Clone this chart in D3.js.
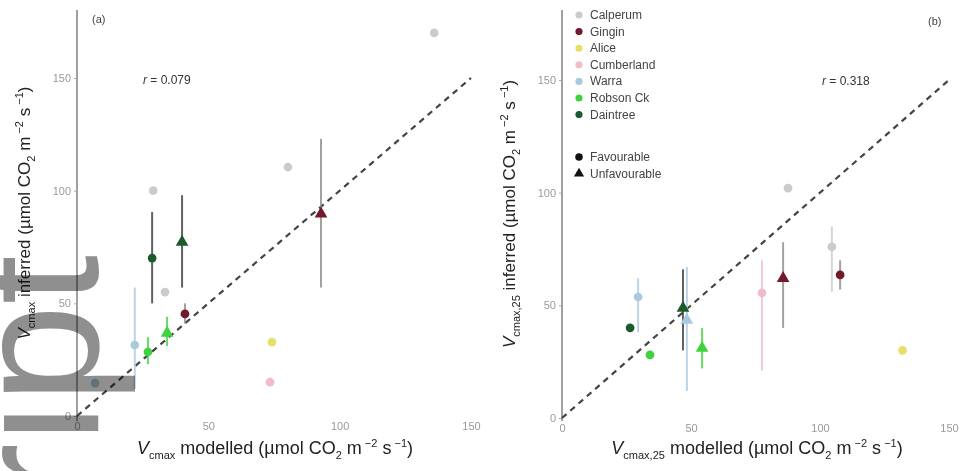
<!DOCTYPE html>
<html>
<head>
<meta charset="utf-8">
<script src="https://cdn.jsdelivr.net/npm/d3@7"></script>
<style>
  html, body { margin: 0; padding: 0; background: #fff; }
  svg { display: block; font-family: "Liberation Sans", Arial, sans-serif; }
</style>
</head>
<body>
<svg id="chart" width="969" height="471"></svg>
<script>
// Sites and their colours
const sites = ["Calperum", "Gingin", "Alice", "Cumberland", "Warra", "Robson Ck", "Daintree"];
const siteColours = ["#cbcbcb", "#74182c", "#e4e06a", "#efbccb", "#a9c9df", "#3fd23f", "#1c5a2c"];
const conditions = ["Favourable", "Unfavourable"];

// Panel (a): Vcmax modelled vs inferred
const aSite = ["Calperum", "Calperum", "Calperum", "Calperum", "Gingin", "Gingin", "Daintree", "Daintree",
               "Robson Ck", "Robson Ck", "Warra", "Warra", "Alice", "Cumberland"];
const aCond = ["Favourable", "Favourable", "Favourable", "Favourable", "Unfavourable", "Favourable", "Favourable", "Unfavourable",
               "Favourable", "Unfavourable", "Favourable", "Favourable", "Favourable", "Favourable"];
const aModelled = [136, 80.3, 33.5, 29, 92.9, 41.1, 28.6, 40, 27, 34.3, 22, 6.9, 74.2, 73.5];
const aInferred = [170, 110.5, 55, 100, 89.7, 45.3, 70.1, 77.2, 28.4, 36.8, 31.5, 14.6, 32.8, 15];
const aLow      = [null, null, null, null, 57, 41, 50, 57, 23, 31, 12, null, null, null];
const aHigh     = [null, null, null, null, 123, 50, 90.5, 98, 35, 44, 57, null, null, null];

// Panel (b): Vcmax,25 modelled vs inferred
const bSite = ["Calperum", "Calperum", "Gingin", "Gingin", "Alice", "Cumberland", "Daintree", "Daintree",
               "Robson Ck", "Robson Ck", "Warra", "Warra"];
const bCond = ["Favourable", "Favourable", "Favourable", "Unfavourable", "Favourable", "Favourable", "Favourable", "Unfavourable",
               "Favourable", "Unfavourable", "Favourable", "Unfavourable"];
const bModelled = [87.6, 104.6, 107.8, 85.7, 132, 77.5, 26.4, 46.9, 34.1, 54.3, 29.5, 48.4];
const bInferred = [102, 76, 63.5, 62, 30, 55.5, 40, 48.8, 28, 31, 53.7, 43.5];
const bLow      = [null, 56, 57, 40, null, 21, null, 30, null, 22, 38, 12];
const bHigh     = [null, 85, 70, 78, null, 70, null, 66, null, 40, 62, 67];

const tickValues = [0, 50, 100, 150];
const corrLabels = ["0.079", "0.318"];
const panelLabels = ["(a)", "(b)"];

const svg = d3.select("#chart");
const colour = d3.scaleOrdinal().domain(sites).range(siteColours);
const shape = d3.scaleOrdinal().domain(conditions).range([d3.symbolCircle, d3.symbolTriangle]);

function rows(site, cond, x, y, lo, hi) {
  return site.map((s, i) => ({ site: s, cond: cond[i], x: x[i], y: y[i], lo: lo[i], hi: hi[i] }));
}

const panels = [
  { data: rows(aSite, aCond, aModelled, aInferred, aLow, aHigh), xr: [77, 471], yr: [416, 78],
    sub: "cmax", corr: corrLabels[0], corrPos: [143, 84], label: panelLabels[0], labelPos: [92, 23],
    yTitle: [30, 213], xTitleX: 275 },
  { data: rows(bSite, bCond, bModelled, bInferred, bLow, bHigh), xr: [562, 949], yr: [418, 80],
    sub: "cmax,25", corr: corrLabels[1], corrPos: [822, 85], label: panelLabels[1], labelPos: [928, 25],
    yTitle: [515, 214], xTitleX: 757 }
];

function unitsTspans(t) {
  t.append("tspan").text(" (µmol CO");
  t.append("tspan").attr("font-size", "11px").attr("dy", 5).text("2");
  t.append("tspan").attr("dy", -5).text(" m");
  t.append("tspan").attr("font-size", "11px").attr("dy", -7).text(" −2");
  t.append("tspan").attr("dy", 7).text(" s");
  t.append("tspan").attr("font-size", "11px").attr("dy", -7).text(" −1");
  t.append("tspan").attr("dy", 7).text(")");
}

panels.forEach(p => {
  const x = d3.scaleLinear().domain([0, 150]).range(p.xr);
  const y = d3.scaleLinear().domain([0, 150]).range(p.yr);
  const g = svg.append("g");

  // y axis: grey spine with small ticks
  const yAxis = d3.axisLeft(y).tickValues(tickValues).tickSize(3).tickPadding(3);
  const ya = g.append("g").attr("transform", `translate(${p.xr[0]},0)`).call(yAxis);
  ya.select(".domain").remove();
  ya.selectAll(".tick line").attr("stroke", "#aaa");
  ya.selectAll(".tick text").attr("fill", "#999").attr("font-size", "11px");
  g.append("line").attr("x1", p.xr[0]).attr("x2", p.xr[0]).attr("y1", 10).attr("y2", 421)
    .attr("stroke", "#a0a0a0").attr("stroke-width", 2);

  // x axis: labels only
  const xAxis = d3.axisBottom(x).tickValues(tickValues).tickSize(0).tickPadding(4);
  const xa = g.append("g").attr("transform", `translate(0,${y(0) + 2})`).call(xAxis);
  xa.select(".domain").remove();
  xa.selectAll(".tick text").attr("fill", "#999").attr("font-size", "11px");

  // 1:1 line
  g.append("line").attr("x1", x(0)).attr("y1", y(0)).attr("x2", x(150)).attr("y2", y(150))
    .attr("stroke", "#444").attr("stroke-width", 2.2).attr("stroke-dasharray", "6,5");

  // error bars
  g.selectAll(".err").data(p.data.filter(d => d.lo != null)).join("line")
    .attr("x1", d => x(d.x)).attr("x2", d => x(d.x))
    .attr("y1", d => y(d.lo)).attr("y2", d => y(d.hi))
    .attr("stroke", d => (d.site === "Daintree" ? "#3a3a3a" : d.site === "Gingin" ? "#8a8a8a" : colour(d.site)))
    .attr("stroke-width", 2).attr("opacity", 0.8);

  // points
  g.selectAll(".pt").data(p.data).join("path")
    .attr("transform", d => `translate(${x(d.x)},${y(d.y)})`)
    .attr("d", d => d3.symbol().type(shape(d.cond)).size(d.cond === "Favourable" ? 60 : 70)())
    .attr("fill", d => colour(d.site));

  // correlation and panel label
  const ct = g.append("text").attr("x", p.corrPos[0]).attr("y", p.corrPos[1]).attr("font-size", "12px").attr("fill", "#333");
  ct.append("tspan").attr("font-style", "italic").text("r");
  ct.append("tspan").text(" = " + p.corr);
  g.append("text").attr("x", p.labelPos[0]).attr("y", p.labelPos[1]).attr("font-size", "11px").attr("fill", "#444").text(p.label);

  // x title
  const xt = g.append("text").attr("x", p.xTitleX).attr("y", 454).attr("text-anchor", "middle")
    .attr("font-size", "18px").attr("fill", "#222");
  xt.append("tspan").attr("font-style", "italic").text("V");
  xt.append("tspan").attr("font-size", "11px").attr("dy", 5).text(p.sub);
  xt.append("tspan").attr("dy", -5).text(" modelled");
  unitsTspans(xt);

  // y title
  const yt = g.append("text").attr("transform", `translate(${p.yTitle[0]},${p.yTitle[1]}) rotate(-90)`)
    .attr("text-anchor", "middle").attr("font-size", "17px").attr("fill", "#222");
  yt.append("tspan").attr("font-style", "italic").text("V");
  yt.append("tspan").attr("font-size", "11px").attr("dy", 5).text(p.sub);
  yt.append("tspan").attr("dy", -5).text(" inferred");
  unitsTspans(yt);
});

// legend in panel (b)
const leg = svg.append("g").attr("transform", "translate(579,15)");
sites.forEach((s, i) => {
  const r = leg.append("g").attr("transform", `translate(0,${i * 16.6})`);
  r.append("path").attr("d", d3.symbol().type(d3.symbolCircle).size(40)()).attr("fill", colour(s));
  r.append("text").attr("x", 11).attr("y", 4).attr("font-size", "12px").attr("fill", "#444").text(s);
});
conditions.forEach((c, i) => {
  const r = leg.append("g").attr("transform", `translate(0,${142 + i * 16.6})`);
  r.append("path").attr("d", d3.symbol().type(shape(c)).size(45)()).attr("fill", "#111");
  r.append("text").attr("x", 11).attr("y", 4).attr("font-size", "12px").attr("fill", "#444").text(c);
});

// manuscript watermark along the left edge, multiplied over the chart
svg.append("text").attr("transform", "translate(98,255) rotate(-90)")
  .attr("text-anchor", "end").attr("font-size", "178px").attr("fill", "#8f8f8f")
  .style("mix-blend-mode", "multiply")
  .text("script");
</script>
</body>
</html>
